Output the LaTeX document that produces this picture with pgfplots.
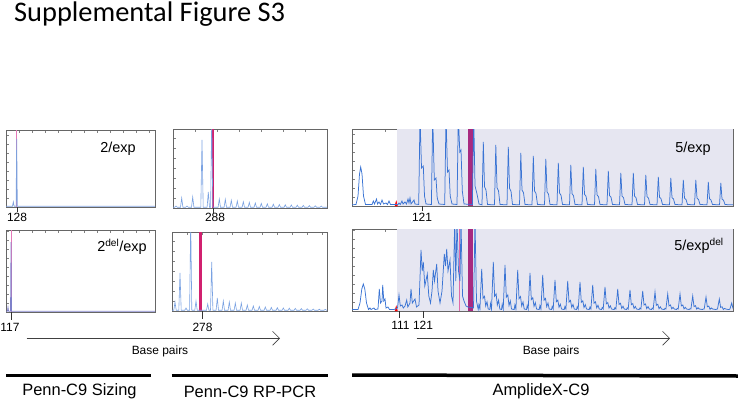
\documentclass[border=0pt]{standalone}
\usepackage{pgfplots}
\pgfplotsset{compat=1.18}
\usetikzlibrary{arrows.meta}
\usepackage{fontspec}
\setmainfont{Liberation Sans}
\newfontfamily\titlefont{Carlito}

\definecolor{lightblue}{HTML}{7EA0DC}
\definecolor{midblue}{HTML}{7AA2E2}
\definecolor{darkblue}{HTML}{3A74D4}
\definecolor{binpink}{HTML}{E47AB8}
\definecolor{magbar}{HTML}{D1206F}
\definecolor{purbar}{HTML}{A82A80}
\definecolor{shade}{HTML}{E6E6F1}

\pgfplotsset{
  ep/.style={scale only axis, anchor=south west, xmin=0, ymin=0,
    axis line style={draw=black!60, line width=0.7bp},
    xtick pos=right, ytick pos=left, tick align=inside,
    major tick length=2.5bp, tick style={black!50, line width=0.5bp},
    xticklabels={}, yticklabels={}, no markers},
}
\tikzset{lab/.style={font=\fontsize{12}{14}\selectfont}}

\begin{document}
\begin{tikzpicture}[x=1bp,y=1bp]
\path[use as bounding box] (0,0) rectangle (738,401);

% title
\node[anchor=base west, inner sep=0] at (14,380) {\titlefont\fontsize{28.5}{31}\selectfont Supplemental Figure S3};

% ---- panel 1: 2/exp, sizing
\begin{axis}[ep, at={(6bp,194bp)}, width=149bp, height=77bp, xmax=149, ymax=77,
  xtick distance=13, ytick distance=9]
\addplot[binpink, line width=1bp] coordinates {(10.7,0) (10.7,77)};
\addplot[lightblue, line width=0.7bp] coordinates {
  (0,0.8) (6.5,0.8) (7.3,5) (8.1,0.8) (10.1,0.8) (10.7,68) (11.3,0.8) (149,0.8)};
\end{axis}

% ---- panel 4: 2del/exp, sizing
\begin{axis}[ep, at={(6bp,89bp)}, width=149bp, height=82bp, xmax=149, ymax=82,
  xtick distance=13, ytick distance=9]
\addplot[binpink, line width=1bp] coordinates {(5,0) (5,82)};
\addplot[lightblue!80!violet, line width=0.7bp] coordinates {
  (0,0.8) (1.4,0.8) (2,5) (2.6,0.8) (4.5,0.8) (5,70) (5.5,0.8) (149,0.8)};
\end{axis}

% ---- panel 2: 2/exp, RP-PCR
\begin{axis}[ep, at={(173bp,193bp)}, width=154bp, height=79bp, xmax=154, ymax=79,
  xtick distance=22, ytick distance=10]
\addplot[fill=magbar, draw=none] coordinates {(38.8,79) (41.3,79)} \closedcycle;
\addplot[midblue, line width=0.6bp] coordinates {
  (0,0.8) (1.8,0.8) (3,2) (4.2,0.8) (7.5,0.8) (8.7,10) (9.9,0.8) (12.8,0.8) (14,2) (15.2,0.8)
  (18.5,0.8) (19.7,11) (20.9,0.8) (27.8,0.8) (29,68) (30.2,0.8) (34.1,0.8) (35.3,16) (36.5,0.8)
  (37.6,0.8) (38.7,90) (39.8,0.8)
  (45.1,0.8) (46.3,9) (47.5,0.8) (51.1,0.8) (52.3,8.7) (53.5,0.8) (57.1,0.8) (58.3,7.7) (59.5,0.8)
  (63.1,0.8) (64.3,7) (65.5,0.8) (69.1,0.8) (70.3,6.3) (71.5,0.8) (75.1,0.8) (76.3,5.7) (77.5,0.8)
  (81.1,0.8) (82.3,5) (83.5,0.8) (87.1,0.8) (88.3,4.6) (89.5,0.8) (93.1,0.8) (94.3,4.2) (95.5,0.8)
  (99.1,0.8) (100.3,3.8) (101.5,0.8) (105.1,0.8) (106.3,3.5) (107.5,0.8) (111.1,0.8) (112.3,3.2) (113.5,0.8)
  (117.1,0.8) (118.3,3) (119.5,0.8) (123.1,0.8) (124.3,2.8) (125.5,0.8) (129.1,0.8) (130.3,2.6) (131.5,0.8)
  (135.1,0.8) (136.3,2.4) (137.5,0.8) (141.1,0.8) (142.3,2.2) (143.5,0.8) (147.1,0.8) (148.3,2) (149.5,0.8)
  (154,0.8)};
\end{axis}

% ---- panel 5: 2del/exp, RP-PCR
\begin{axis}[ep, at={(172bp,90bp)}, width=155bp, height=79bp, xmax=155, ymax=79,
  xtick distance=15, ytick distance=10]
\addplot[fill=magbar, draw=none] coordinates {(27.3,79) (30,79)} \closedcycle;
\addplot[midblue, line width=0.6bp] coordinates {
  (0,0.8) (1.8,0.8) (3,9) (4.2,0.8) (6.8,0.8) (8,38) (9.2,0.8) (12.8,0.8) (14,3) (15.2,0.8)
  (17.6,0.8) (18.7,90) (19.8,0.8) (22.8,0.8) (24,10) (25.2,0.8) (34.5,0.8) (35.7,7) (36.9,0.8)
  (38.5,0.8) (39.7,49) (40.9,0.8) (44.1,0.8) (45.3,13) (46.5,0.8) (50.1,0.8) (51.3,10) (52.5,0.8)
  (56.1,0.8) (57.3,9) (58.5,0.8) (62.1,0.8) (63.3,8) (64.5,0.8) (68.1,0.8) (69.3,8) (70.5,0.8)
  (74.1,0.8) (75.3,6) (76.5,0.8) (80.1,0.8) (81.3,5) (82.5,0.8) (86.1,0.8) (87.3,4.5) (88.5,0.8)
  (92.1,0.8) (93.3,4) (94.5,0.8) (98.1,0.8) (99.3,3.6) (100.5,0.8) (104.1,0.8) (105.3,3.3) (106.5,0.8)
  (110.1,0.8) (111.3,3) (112.5,0.8) (116.1,0.8) (117.3,2.8) (118.5,0.8) (122.1,0.8) (123.3,2.6) (124.5,0.8)
  (128.1,0.8) (129.3,2.4) (130.5,0.8) (134.1,0.8) (135.3,2.2) (136.5,0.8) (140.1,0.8) (141.3,2) (142.5,0.8)
  (146.1,0.8) (147.3,1.8) (148.5,0.8) (152.1,0.8) (153.3,1.6) (154.5,0.8) (155,0.8)};
\end{axis}

% ---- panel 3: 5/exp, AmplideX
\begin{axis}[ep, at={(352bp,195bp)}, width=381bp, height=77bp, xmax=381, ymax=77,
  xtick distance=33, ytick distance=9]
\addplot[fill=shade, draw=none] coordinates {(44.7,77) (381,77)} \closedcycle;
\addplot[fill=purbar, draw=none] coordinates {(116.3,77) (121.3,77)} \closedcycle;
\addplot[fill=red, draw=red, line width=0.4bp] coordinates {(43,0) (44.2,5) (45.4,0)} \closedcycle;
\addplot[darkblue, line width=0.75bp] coordinates {
  (0,1.2) (4,1.5) (6,10) (7.5,32) (8.7,39) (10,32) (11.5,10) (13.5,1.5) (20,1.5) (21.3,5) (22.5,2)
  (24.5,7) (25.5,2) (27,4) (28.5,1.5) (30,6) (31.5,2) (34,3) (35.5,1.5) (37,5) (38.5,1.5) (42,1.5)
  (46,1.5) (47,3) (48.2,1.5) (50,5) (51,2) (53,4) (54.5,2) (56,7) (57,3) (58,8) (59,2) (62,6) (63,2)
  (66.7,1.5) (68,90) (69.5,38) (71.3,40) (72.5,10) (74,2) (79.4,1.5) (80.7,90) (82.3,26) (84,28)
  (85.2,8) (87,2) (92.7,1.5) (94,90) (95.5,34) (97,36) (98.2,10) (100,2) (105,1.5) (106.3,90)
  (107.8,54) (109,56) (110.3,15) (112,2) (120.4,1.5) (121.7,90) (123,20) (125,12) (127,2)
  (130,1.2) (131.3,64) (132.5,19.2) (134,16) (135.5,1.5)
  (142.5,1.2) (143.8,61) (145,18.3) (146.5,15.3) (148,1.5)
  (155,1.2) (156.3,59) (157.5,17.7) (159,14.8) (160.5,1.5)
  (167.5,1.2) (168.8,53) (170,15.9) (171.5,13.3) (173,1.5)
  (180,1.2) (181.3,50) (182.5,15) (184,12.5) (185.5,1.5)
  (192.5,1.2) (193.8,47) (195,14.1) (196.5,11.8) (198,1.5)
  (205,1.2) (206.3,43) (207.5,12.9) (209,10.8) (210.5,1.5)
  (217.5,1.2) (218.8,41) (220,12.3) (221.5,10.3) (223,1.5)
  (230,1.2) (231.3,39) (232.5,11.7) (234,9.8) (235.5,1.5)
  (242.5,1.2) (243.8,37) (245,11.1) (246.5,9.3) (248,1.5)
  (255,1.2) (256.3,35) (257.5,10.5) (259,8.8) (260.5,1.5)
  (267.5,1.2) (268.8,33) (270,9.9) (271.5,8.3) (273,1.5)
  (280,1.2) (281.3,33) (282.5,9.9) (284,8.3) (285.5,1.5)
  (292.5,1.2) (293.8,31) (295,9.3) (296.5,7.8) (298,1.5)
  (305,1.2) (306.3,29) (307.5,8.7) (309,7.3) (310.5,1.5)
  (317.5,1.2) (318.8,28) (320,8.4) (321.5,7) (323,1.5)
  (330,1.2) (331.3,26) (332.5,7.8) (334,6.5) (335.5,1.5)
  (342.5,1.2) (343.8,26) (345,7.8) (346.5,6.5) (348,1.5)
  (355,1.2) (356.3,24) (357.5,7.2) (359,6) (360.5,1.5)
  (367.5,1.2) (368.8,23) (370,6.9) (371.5,5.8) (373,1.5)
  (378,1.2) (381,1.2)};
\end{axis}

% ---- panel 6: 5/expdel, AmplideX
\begin{axis}[ep, at={(352bp,90bp)}, width=381bp, height=82bp, xmax=381, ymax=82,
  xtick distance=33, ytick distance=9]
\addplot[fill=shade, draw=none] coordinates {(44.7,82) (381,82)} \closedcycle;
\addplot[fill=purbar, draw=none] coordinates {(116.3,82) (121.3,82)} \closedcycle;
\addplot[binpink!80!magbar, line width=0.9bp] coordinates {(107,0) (107,82)};
\addplot[fill=red, draw=red, line width=0.4bp] coordinates {(43,0) (44.2,5) (45.4,0)} \closedcycle;
\addplot[darkblue, line width=0.75bp] coordinates {
  (0,1.5) (6,1.5) (8,8) (9.8,22) (11.3,27) (12.8,22) (14.5,8) (16.5,1.5) (18,3) (19,1.5) (22,3)
  (23,1.5) (26,2) (27.3,22) (28.5,8) (30,10) (30.7,26) (31.8,10) (33,12) (34,3) (36,4) (37.5,1.5)
  (42,1.5) (45.5,3) (47,16) (48.3,5) (50,6) (51.3,3) (53,5) (54.7,11) (55.8,4) (58,8) (59,22)
  (60.3,8) (63,12) (64.5,4) (67,6) (69,61) (70.2,40) (71.3,49) (72.8,25) (75.3,37) (76.8,15)
  (78.5,8) (80,20) (81.3,41) (82.5,30) (84.7,47) (86,20) (88,8) (90,20) (92.3,57) (93.5,45)
  (94.7,62) (96,40) (98,51) (99.5,15) (101,8) (102.7,90) (103.8,30) (105,90) (106.5,40) (108,30)
  (109,90) (110.5,15) (112,10) (114,5) (116,4) (121.5,3) (123,90) (124.5,10)
  (126.2,1.5) (126.9,6.3) (127.9,2) (129.7,42) (131,12.6) (132.5,14.7) (133.7,5) (135,9.2) (136.2,2)
  (137.8,1.5) (138.5,7.4) (139.5,2) (141.3,49) (142.6,14.7) (144.1,17.2) (145.3,5.9) (146.6,10.8) (147.8,2)
  (149.5,1.5) (150.2,6.9) (151.2,2) (153,46) (154.3,13.8) (155.8,16.1) (157,5.5) (158.3,10.1) (159.5,2)
  (162.2,1.5) (162.9,6.2) (163.9,2) (165.7,41) (167,12.3) (168.5,14.4) (169.7,4.9) (171,9) (172.2,2)
  (174.5,1.5) (175.2,5.7) (176.2,2) (178,38) (179.3,11.4) (180.8,13.3) (182,4.6) (183.3,8.4) (184.5,2)
  (187.2,1.5) (187.9,5.4) (188.9,2) (190.7,36) (192,10.8) (193.5,12.6) (194.7,4.3) (196,7.9) (197.2,2)
  (199.5,1.5) (200.2,4.7) (201.2,2) (203,31) (204.3,9.3) (205.8,10.9) (207,3.7) (208.3,6.8) (209.5,2)
  (212.2,1.5) (212.9,4.5) (213.9,2) (215.7,30) (217,9) (218.5,10.5) (219.7,3.6) (221,6.6) (222.2,2)
  (224.5,1.5) (225.2,4.4) (226.2,2) (228,29) (229.3,8.7) (230.8,10.2) (232,3.5) (233.3,6.4) (234.5,2)
  (237.2,1.5) (237.9,3.9) (238.9,2) (240.7,26) (242,7.8) (243.5,9.1) (244.7,3.1) (246,5.7) (247.2,2)
  (249.5,1.5) (250.2,3.6) (251.2,2) (253,24) (254.3,7.2) (255.8,8.4) (257,2.9) (258.3,5.3) (259.5,2)
  (262.2,1.5) (262.9,3.3) (263.9,2) (265.7,22) (267,6.6) (268.5,7.7) (269.7,2.6) (271,4.8) (272.2,2)
  (274.5,1.5) (275.2,3.2) (276.2,2) (278,21) (279.3,6.3) (280.8,7.4) (282,2.5) (283.3,4.6) (284.5,2)
  (287.2,1.5) (287.9,3) (288.9,2) (290.7,20) (292,6) (293.5,7) (294.7,2.4) (296,4.4) (297.2,2)
  (299.5,1.5) (300.2,2.9) (301.2,2) (303,19) (304.3,5.7) (305.8,6.7) (307,2.3) (308.3,4.2) (309.5,2)
  (312.2,1.5) (312.9,2.6) (313.9,2) (315.7,17) (317,5.1) (318.5,6) (319.7,2.1) (321,3.7) (322.2,2)
  (324.5,1.5) (325.2,2.6) (326.2,2) (328,17) (329.3,5.1) (330.8,6) (332,2.1) (333.3,3.7) (334.5,2)
  (337.2,1.5) (337.9,2.3) (338.9,2) (340.7,15) (342,4.5) (343.5,5.3) (344.7,1.8) (346,3.3) (347.2,2)
  (350.5,1.5) (351.2,2.1) (352.2,2) (354,14) (355.3,4.2) (356.8,4.9) (358,1.7) (359.3,3.1) (360.5,2)
  (363.8,1.5) (364.5,1.8) (365.5,2) (367.3,12) (368.6,3.6) (370.1,4.2) (371.3,1.5) (372.6,2.6) (373.8,2)
  (376.2,1.5) (376.9,1.5) (377.9,2) (379.7,8) (381,2.4)};
\end{axis}

% panel captions
\node[font=\fontsize{14.5}{16}\selectfont] at (118,252) {2/exp};
\node[font=\fontsize{14.5}{16}\selectfont] at (122,154) {2\textsuperscript{del}/exp};
\node[font=\fontsize{14.5}{16}\selectfont] at (693,252) {5/exp};
\node[font=\fontsize{14.5}{16}\selectfont] at (699,155) {5/exp\textsuperscript{del}};

% size markers under the traces
\draw[black!80, line width=0.5bp] (17,194) -- (17,189);
\node[lab] at (17,184) {128};
\draw[black!80, line width=0.5bp] (213,193) -- (213,188);
\node[lab] at (215,184) {288};
\draw[black!80, line width=0.5bp] (422,195) -- (422,190);
\node[lab] at (422,184) {121};
\draw[black!80, line width=0.5bp] (11,89) -- (11,81);
\node[lab] at (10,74) {117};
\draw[black!80, line width=0.5bp] (202,90) -- (202,82);
\node[lab] at (202.5,74) {278};
\draw[black!80, line width=0.5bp] (399,90) -- (399,83);
\draw[black!80, line width=0.5bp] (423,90) -- (423,83);
\node[lab] at (400.5,76) {111};
\node[lab] at (423,76) {121};

% base pair arrows
\draw[black!75, line width=0.6bp, -{Straight Barb[length=7bp, width=14bp]}] (26.7,62.7) -- (280,62.7);
\draw[black!75, line width=0.6bp, -{Straight Barb[length=7bp, width=14bp]}] (416.7,62.7) -- (670,62.7);
\node[lab] at (160,49.3) {Base pairs};
\node[lab] at (551,49.3) {Base pairs};

% method bars
\draw[black, line width=3bp] (6,26) -- (150.7,26);
\draw[black, line width=3bp] (171.7,26) -- (328,26);
\draw[black, line width=3.5bp] (352,26) -- (738,25);
\node[font=\fontsize{16.5}{18}\selectfont] at (79.5,9.3) {Penn-C9 Sizing};
\node[font=\fontsize{16.5}{18}\selectfont] at (250,9.3) {Penn-C9 RP-PCR};
\node[font=\fontsize{16.5}{18}\selectfont] at (541,9.3) {AmplideX-C9};
\end{tikzpicture}
\end{document}
